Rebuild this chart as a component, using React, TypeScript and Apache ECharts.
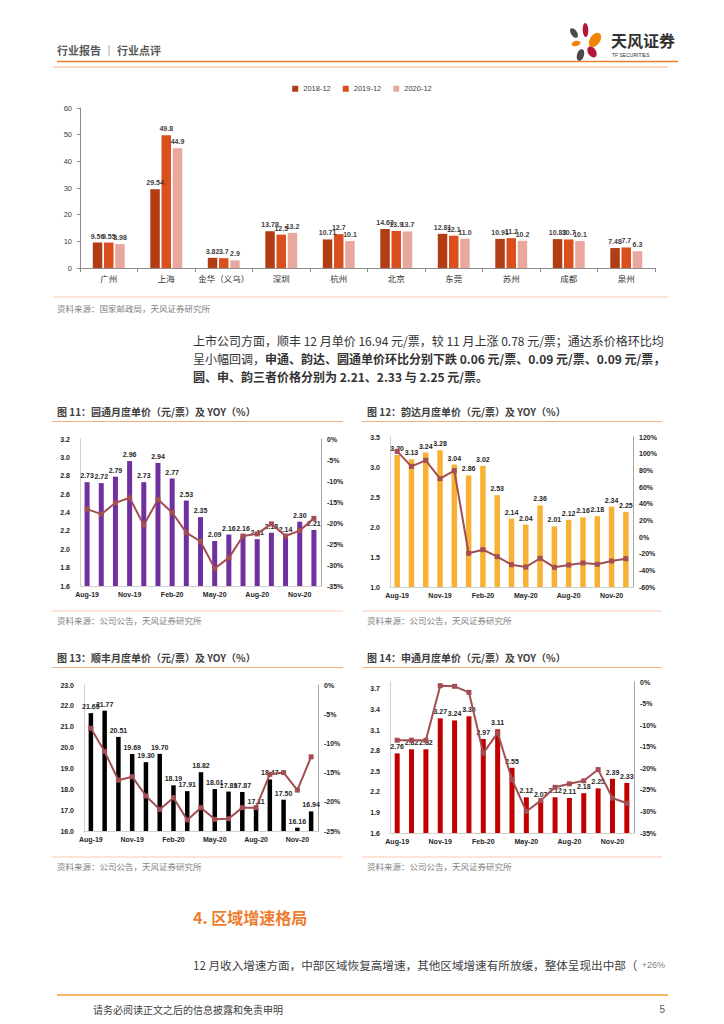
import React, { useEffect, useRef } from "react";
import * as echarts from "echarts";

const cities = ["广州", "上海", "金华（义乌）", "深圳", "杭州", "北京", "东莞", "苏州", "成都", "泉州"];
const legendNames = ["2018-12", "2019-12", "2020-12"];
const price2018 = [9.56, 29.54, 3.82, 13.78, 10.71, 14.63, 12.81, 10.91, 10.83, 7.48];
const price2019 = [9.55, 49.8, 3.7, 12.5, 12.7, 13.9, 12.1, 11.2, 10.7, 7.7];
const price2020 = [8.98, 44.9, 2.9, 13.2, 10.1, 13.7, 11.0, 10.2, 10.1, 6.3];

const months = ["Aug-19", "Sep-19", "Oct-19", "Nov-19", "Dec-19", "Jan-20", "Feb-20", "Mar-20", "Apr-20", "May-20", "Jun-20", "Jul-20", "Aug-20", "Sep-20", "Oct-20", "Nov-20", "Dec-20"];

const ytoPrice = [2.73, 2.72, 2.79, 2.96, 2.73, 2.94, 2.77, 2.53, 2.35, 2.09, 2.16, 2.16, 2.11, 2.18, 2.14, 2.30, 2.21];
const ytoYoy = [-16.7, -17.9, -15.2, -14.0, -20.5, -14.4, -17.5, -22.3, -24.4, -30.8, -28.3, -23.1, -22.6, -20.2, -23.1, -21.8, -18.9];

const ydPrice = [3.20, 3.13, 3.24, 3.28, 3.04, 2.86, 3.02, 2.53, 2.14, 2.04, 2.36, 2.01, 2.12, 2.16, 2.18, 2.34, 2.25];
const ydYoy = [102.8, 84.8, 92, 70, 79.6, -19.6, -15.2, -23.6, -33.2, -36, -25.6, -36.4, -33.6, -31.2, -32.8, -28.8, -26];

const sfPrice = [21.65, 21.77, 20.51, 19.69, 19.30, 19.70, 18.19, 17.91, 18.82, 18.01, 17.89, 17.87, 17.11, 18.47, 17.50, 16.16, 16.94];
const sfYoy = [-7.4, -11.4, -16.3, -15.7, -19.0, -21.3, -19.3, -23.1, -21.0, -23.0, -22.9, -21.0, -21.0, -15.3, -15.0, -18.0, -12.3];

const stoPrice = [2.76, 2.82, 2.82, 3.27, 3.24, 3.30, 2.97, 3.11, 2.55, 2.12, 2.07, 2.12, 2.11, 2.18, 2.25, 2.39, 2.33];
const stoYoy = [-13.5, -13.5, -13.5, -0.85, -1.0, -2.4, -16.5, -11.8, -22.6, -30.0, -27.5, -24.4, -23.6, -22.9, -20.3, -26.9, -28.1];
const stoTicks = [1.6, 1.9, 2.2, 2.5, 2.8, 3.1, 3.4, 3.7];

const LAT = '"Liberation Sans", Arial, "Noto Sans CJK SC", sans-serif';
const CJK = '"Noto Sans CJK SC", "Liberation Sans", sans-serif';
const LINE_COLOR = "#A24E52";

function txt(x: number, y: number, text: string, font: string, fill: string, align = "left") {
  return {
    type: "text",
    x,
    y,
    silent: true,
    style: { text, font, fill, textAlign: align, textVerticalAlign: "middle" },
  };
}

function hline(x1: number, x2: number, y: number, stroke: string, w = 1) {
  return { type: "line", silent: true, shape: { x1, y1: y, x2, y2: y }, style: { stroke, lineWidth: w } };
}

function petal(x: number, y: number, rx: number, ry: number, rot: number, fill: string) {
  return { type: "ellipse", x, y, rotation: rot, silent: true, shape: { cx: 0, cy: 0, rx, ry }, style: { fill } };
}

export default function App() {
  const ref = useRef<HTMLDivElement>(null);

  useEffect(() => {
    if (!ref.current) return;
    const chart = echarts.init(ref.current, null, { renderer: "svg" });

    const smallGrids = [
      { left: 80, top: 439, width: 241, height: 147 },
      { left: 390, top: 437, width: 243, height: 150 },
      { left: 84, top: 685, width: 234, height: 146 },
      { left: 390, top: 682, width: 244, height: 151 },
    ];

    const axisLab = { fontSize: 7, fontWeight: "bold", color: "#262626", fontFamily: LAT };

    const xAxes: any[] = [
      {
        type: "category",
        gridIndex: 0,
        data: cities,
        axisLine: { onZero: false, lineStyle: { color: "#8C8C8C" } },
        axisTick: { show: true, interval: 0, length: 4, lineStyle: { color: "#8C8C8C" } },
        axisLabel: { interval: 0, fontSize: 8.5, color: "#333", fontFamily: CJK, margin: 6 },
      },
    ];
    for (let i = 0; i < 4; i++) {
      xAxes.push({
        type: "category",
        gridIndex: i + 1,
        data: months,
        axisLine: { onZero: false, lineStyle: { color: "#D0D0D0" } },
        axisTick: { show: false },
        axisLabel: { ...axisLab, interval: 2, margin: 5 },
      });
    }

    const leftCfg = [
      { min: 1.6, max: 3.2, interval: 0.2 },
      { min: 1.0, max: 3.5, interval: 0.5 },
      { min: 16, max: 23, interval: 1 },
      { min: 1.6, max: 3.8 },
    ];
    const rightCfg = [
      { min: -35, max: 0, interval: 5 },
      { min: -60, max: 120, interval: 20 },
      { min: -25, max: 0, interval: 5 },
      { min: -35, max: 0, interval: 5 },
    ];

    const yAxes: any[] = [
      {
        type: "value",
        gridIndex: 0,
        min: 0,
        max: 60,
        interval: 10,
        splitLine: { show: false },
        axisLine: { show: true, lineStyle: { color: "#8C8C8C" } },
        axisTick: { show: true, length: 3, lineStyle: { color: "#8C8C8C" } },
        axisLabel: { fontSize: 7.5, color: "#404040", fontFamily: LAT, margin: 8 },
      },
    ];
    for (let i = 0; i < 4; i++) {
      const l: any = {
        type: "value",
        gridIndex: i + 1,
        position: "left",
        ...leftCfg[i],
        splitLine: { show: false },
        axisLine: { show: true, lineStyle: { color: "#D0D0D0" } },
        axisTick: { show: false },
        axisLabel: { ...axisLab, margin: 10, formatter: (v: number) => v.toFixed(1) },
      };
      if (i === 3) {
        l.axisLabel.customValues = stoTicks;
      }
      yAxes.push(l);
      yAxes.push({
        type: "value",
        gridIndex: i + 1,
        position: "right",
        ...rightCfg[i],
        splitLine: { show: false },
        axisLine: { show: true, lineStyle: { color: "#A6A6A6" } },
        axisTick: { show: false },
        axisLabel: { ...axisLab, margin: 6, formatter: (v: number) => v + "%" },
      });
    }

    const topLabel = {
      show: true,
      position: "top",
      distance: 3,
      fontSize: 7,
      fontWeight: "bold",
      color: "#404040",
      fontFamily: LAT,
      formatter: (p: any) => (Number.isInteger(p.value) ? p.value.toFixed(1) : String(p.value)),
    };
    const topColors = ["#B23C14", "#D9501E", "#E9A89E"];
    const topData = [price2018, price2019, price2020];

    const series: any[] = topData.map((d, i) => ({
      type: "bar",
      name: legendNames[i],
      xAxisIndex: 0,
      yAxisIndex: 0,
      data: d,
      barWidth: 9.5,
      barGap: "18%",
      itemStyle: { color: topColors[i] },
      label: topLabel,
    }));

    const smallData = [
      { price: ytoPrice, yoy: ytoYoy, color: "#7030A0", bw: 5 },
      { price: ydPrice, yoy: ydYoy, color: "#F7B135", bw: 5.5 },
      { price: sfPrice, yoy: sfYoy, color: "#000000", bw: 4.5 },
      { price: stoPrice, yoy: stoYoy, color: "#C00000", bw: 5 },
    ];
    smallData.forEach((s, i) => {
      series.push({
        type: "bar",
        xAxisIndex: i + 1,
        yAxisIndex: 1 + i * 2,
        data: s.price,
        barWidth: s.bw,
        itemStyle: { color: s.color },
        label: {
          show: true,
          position: "top",
          distance: 3,
          fontSize: 7,
          fontWeight: "bold",
          color: "#262626",
          fontFamily: LAT,
          formatter: (p: any) => p.value.toFixed(2),
        },
      });
      series.push({
        type: "line",
        xAxisIndex: i + 1,
        yAxisIndex: 2 + i * 2,
        data: s.yoy,
        symbol: "rect",
        symbolSize: 5,
        lineStyle: { color: LINE_COLOR, width: 2 },
        itemStyle: { color: LINE_COLOR },
        z: 3,
      });
    });

    const titles = [
      { x: 57, y: 411, t: "图 11：圆通月度单价（元/票）及 YOY（%）", x2: 343 },
      { x: 367, y: 411, t: "图 12：韵达月度单价（元/票）及 YOY（%）", x2: 662 },
      { x: 57, y: 657, t: "图 13：顺丰月度单价（元/票）及 YOY（%）", x2: 343 },
      { x: 367, y: 657, t: "图 14：申通月度单价（元/票）及 YOY（%）", x2: 662 },
    ];

    const graphics: any[] = [
      // header
      txt(57, 50, "行业报告 ｜ 行业点评", `bold 11px ${CJK}`, "#595959"),
      hline(57, 678, 61.5, "#ED7D31", 1.5),
      hline(53, 668, 67, "#F8CBAD", 1.5),
      // logo
      petal(574, 33, 3, 5.5, 0.6, "#4A4A4A"),
      petal(585.5, 30, 2.8, 7, 0.05, "#B0173A"),
      petal(595, 40, 5, 8, -0.6, "#F08300"),
      petal(576, 43.5, 4.5, 2.6, 0.2, "#F08300"),
      petal(592, 52, 4, 6, 0.6, "#B0173A"),
      petal(580.5, 55, 3.5, 6, -0.3, "#4A4A4A"),
      txt(611, 40, "天风证券", `bold 16px ${CJK}`, "#333"),
      txt(612, 55, "TF SECURITIES", `5px ${LAT}`, "#333"),
      // top chart source
      hline(53, 668, 297, "#F8CBAD", 1),
      txt(57, 308, "资料来源：国家邮政局，天风证券研究所", `8.5px ${CJK}`, "#7F7F7F"),
      // paragraph
      txt(193, 340, "上市公司方面，顺丰 12 月单价 16.94 元/票，较 11 月上涨 0.78 元/票；通达系价格环比均", `12px ${CJK}`, "#333"),
      {
        type: "text",
        x: 193,
        y: 358,
        silent: true,
        style: {
          text: "{n|呈小幅回调，}{b|申通、韵达、圆通单价环比分别下跌 0.06 元/票、0.09 元/票、0.09 元/票，}",
          textVerticalAlign: "middle",
          rich: {
            n: { font: `12px ${CJK}`, fill: "#333" },
            b: { font: `bold 12px ${CJK}`, fill: "#333" },
          },
        },
      },
      txt(193, 376, "圆、申、韵三者价格分别为 2.21、2.33 与 2.25 元/票。", `bold 12px ${CJK}`, "#333"),
      // sources for small charts
      hline(52, 343, 611, "#F8CBAD", 1),
      hline(362, 662, 611, "#F8CBAD", 1),
      txt(57, 620, "资料来源：公司公告，天风证券研究所", `8.5px ${CJK}`, "#7F7F7F"),
      txt(367, 620, "资料来源：公司公告，天风证券研究所", `8.5px ${CJK}`, "#7F7F7F"),
      hline(52, 343, 857, "#F8CBAD", 1),
      hline(362, 662, 857, "#F8CBAD", 1),
      txt(57, 866, "资料来源：公司公告，天风证券研究所", `8.5px ${CJK}`, "#7F7F7F"),
      txt(367, 866, "资料来源：公司公告，天风证券研究所", `8.5px ${CJK}`, "#7F7F7F"),
      // section
      txt(193, 917, "4. 区域增速格局", `bold 16px ${CJK}`, "#ED7D31"),
      txt(193, 965, "12 月收入增速方面，中部区域恢复高增速，其他区域增速有所放缓，整体呈现出中部（", `11.6px ${CJK}`, "#404040"),
      txt(665, 965, "+26%", `9px ${LAT}`, "#7F7F7F", "right"),
      // footer
      hline(57, 668, 995, "#F0A030", 1.5),
      txt(93, 1009, "请务必阅读正文之后的信息披露和免责申明", `10px ${CJK}`, "#404040"),
      txt(665, 1009, "5", `10px ${LAT}`, "#595959", "right"),
    ];
    titles.forEach((t) => {
      graphics.push(txt(t.x, t.y, t.t, `bold 10px ${CJK}`, "#404040"));
      graphics.push(hline(t.x === 57 ? 52 : 362, t.x2, 421.5 + (t.y - 411), "#F4B183", 1.2));
    });

    chart.setOption({
      animation: false,
      backgroundColor: "#ffffff",
      textStyle: { fontFamily: LAT },
      legend: {
        show: true,
        data: legendNames,
        top: 80,
        left: "center",
        itemWidth: 6,
        itemHeight: 6,
        itemGap: 12,
        icon: "rect",
        textStyle: { fontSize: 7.5, color: "#404040", fontFamily: LAT },
      },
      grid: [{ left: 80, top: 108, width: 575, height: 160 }, ...smallGrids],
      xAxis: xAxes,
      yAxis: yAxes,
      series,
      graphic: graphics,
    });

    return () => chart.dispose();
  }, []);

  return (
    <div
      ref={ref}
      style={{ position: "absolute", left: 0, top: 0, width: 724, height: 1024, background: "#fff" }}
    />
  );
}
